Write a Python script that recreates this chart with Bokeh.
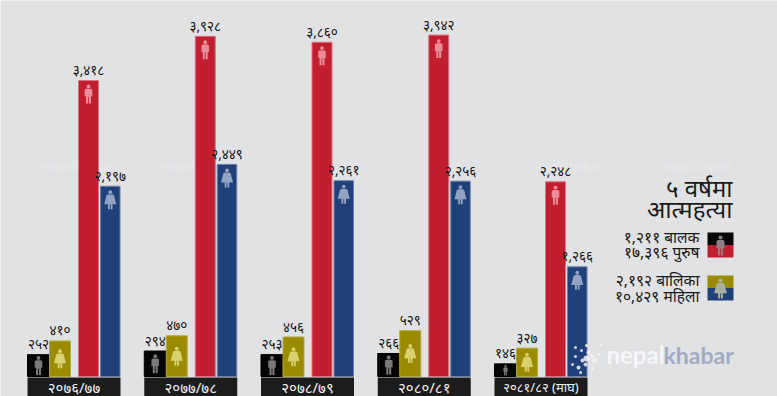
from bokeh.plotting import figure
from bokeh.embed import file_html
from bokeh.resources import INLINE
from bokeh.core.properties import value as V

# ---- data
periods = ["२०७६/७७", "२०७७/७८", "२०७८/७९", "२०८०/८१", "२०८१/८२ (माघ)"]
period_sizes = ["15px", "15px", "15px", "15px", "13px"]
boys = [252, 294, 253, 266, 146]
girls = [410, 470, 456, 529, 327]
men = [3418, 3928, 3860, 3942, 2248]
women = [2197, 2449, 2261, 2256, 1266]
title_lines = ["५ वर्षमा", "आत्महत्या"]
legend_top = ["१,२११ बालक", "१७,३९६ पुरुष"]
legend_bottom = ["२,१९२ बालिका", "१०,४२९ महिला"]

BG = "#e1e2e4"
BLACK, GOLD, RED, BLUE = "#050505", "#9a8b00", "#c11f30", "#1f4079"
FONT = "Noto Sans"

W, H = 777, 396
PX_PER_UNIT = 0.0866
BASE_PX = 376
PITCH = 116.75
X0 = 27

p = figure(width=W, height=H, output_backend="svg", toolbar_location=None,
           x_range=((0 - X0) / PITCH, (W - X0) / PITCH),
           y_range=((BASE_PX - H) / PX_PER_UNIT, BASE_PX / PX_PER_UNIT),
           background_fill_color=BG, border_fill_color=BG, outline_line_color=None,
           min_border=0, min_border_left=0, min_border_right=0, min_border_top=0, min_border_bottom=0)
p.axis.visible = False
p.grid.visible = False

def fx(px):  # image pixel -> x data
    return (px - X0) / PITCH
def fy(px):  # image pixel -> y data
    return (BASE_PX - px) / PX_PER_UNIT

DIGITS = "०१२३४५६७८९"
def deva(n):
    s = f"{n:,}"
    return "".join(DIGITS[int(c)] if c.isdigit() else c for c in s)

MAN = [(-.12,.22),(.12,.22),(.2,.27),(.2,.62),(.13,.62),(.13,1.0),(.02,1.0),(.02,.65),(-.02,.65),(-.02,1.0),(-.13,1.0),(-.13,.62),(-.2,.62),(-.2,.27)]
WOMAN = [(-.12,.22),(.12,.22),(.2,.27),(.24,.45),(.32,.74),(.12,.74),(.12,1.0),(.02,1.0),(.02,.74),(-.02,.74),(-.02,1.0),(-.12,1.0),(-.12,.74),(-.32,.74),(-.24,.45),(-.2,.27)]

def icon(cx, top, h, shape, color):
    """cx, top, h in image pixels"""
    p.patch([fx(cx + a * h) for a, _ in shape], [fy(top + b * h) for _, b in shape],
            fill_color=color, line_color=None)
    p.ellipse(fx(cx), fy(top + .1 * h), width=.2 * h / PITCH, height=.2 * h / PX_PER_UNIT,
              fill_color=color, line_color=None)

# faint watermarks
for x in [40, 160, 530, 660]:
    p.text([fx(x)], [fy(165)], text=["nepalkhabar"], text_font=V("Lato"), text_font_size="13px",
           text_color="#e6e7e9", text_baseline="middle", text_font_style="bold")

series = [(boys, 0, 22, BLACK, "#000000", MAN, "#7a7a7a"),
          (girls, 22, 21, GOLD, "#b5a93a", WOMAN, "#d9d070"),
          (men, 51, 20, RED, "#dd7280", MAN, "#ec8c98"),
          (women, 73, 19.5, BLUE, "#6b80a8", WOMAN, "#92a2c2")]

for vals, off, w, col, edge, shape, icol in series:
    xs = [g + (off + w / 2) / PITCH for g in range(len(vals))]
    p.vbar(x=xs, top=vals, bottom=0, width=w / PITCH, fill_color=col, line_color=edge, line_width=1)
    p.text(xs, [v + 1.5 / PX_PER_UNIT for v in vals], text=[deva(v) for v in vals],
           text_font=V(FONT), text_font_size="13.5px", text_color="#141414",
           text_align="center", text_baseline="bottom")
    for x, v in zip(xs, vals):
        bar_h = v * PX_PER_UNIT
        h = min(19, bar_h - 2)
        top = BASE_PX - bar_h + 4 if bar_h > 60 else BASE_PX - bar_h + (bar_h - h) / 2
        icon(X0 + x * PITCH, top, h, shape, icol)

# category boxes
p.quad(left=[g for g in range(5)], right=[g + 93 / PITCH for g in range(5)],
       top=[fy(377)] * 5, bottom=[fy(396)] * 5, fill_color="#1c1c1c", line_color=None)
for g, (label, size) in enumerate(zip(periods, period_sizes)):
    p.text([g + 46.5 / PITCH], [fy(386.5)], text=[label], text_font=V(FONT),
           text_font_size=size, text_color="#f2f2f2", text_align="center", text_baseline="middle")

# title and legend
for line, y in zip(title_lines, [187, 208]):
    p.text([fx(732)], [fy(y)], text=[line], text_font=V(FONT), text_font_size="24px",
           text_color="#1a1a1a", text_align="right", text_baseline="middle")
for line, y in zip(legend_top + legend_bottom, [236, 251, 279, 295]):
    p.text([fx(699)], [fy(y)], text=[line], text_font=V(FONT), text_font_size="15.5px",
           text_color="#1a1a1a", text_align="right", text_baseline="middle")
for top, c1, c2, shape, ic in [(232, BLACK, RED, MAN, "#8d7f82"), (275, GOLD, BLUE, WOMAN, "#a9b0a0")]:
    p.quad(left=[fx(707)], right=[fx(733)], top=[fy(top)], bottom=[fy(top + 12.5)], fill_color=c1, line_color=None)
    p.quad(left=[fx(707)], right=[fx(733)], top=[fy(top + 12.5)], bottom=[fy(top + 25)], fill_color=c2, line_color=None)
    icon(720, top + 3, 20, shape, ic)

# logo
logo_x = [575, 581, 586, 592, 575, 582, 588, 594, 600, 572, 578, 585, 592, 598, 580, 586]
logo_y = [347, 350, 345, 356, 356, 360, 352, 360, 344, 364, 367, 364, 368, 354, 372, 358]
logo_s = [3, 3, 3, 4, 3, 4, 4, 5, 3, 3, 4, 4, 3, 3, 3, 6]
p.scatter([fx(x) for x in logo_x], [fy(y) for y in logo_y], size=logo_s, marker="circle",
          fill_color="#f3f4f7", line_color=None, fill_alpha=.85)
p.text([fx(606)], [fy(354)], text=["nepal"], text_font=V("Lato"), text_font_size="24px",
       text_color="#f5f6f8", text_baseline="middle", text_font_style="bold")
p.text([fx(663)], [fy(354)], text=["khabar"], text_font=V("Lato"), text_font_size="23px",
       text_color="#a2abc3", text_baseline="middle", text_font_style="bold")

open("out.html", "w").write(file_html(p, INLINE))
